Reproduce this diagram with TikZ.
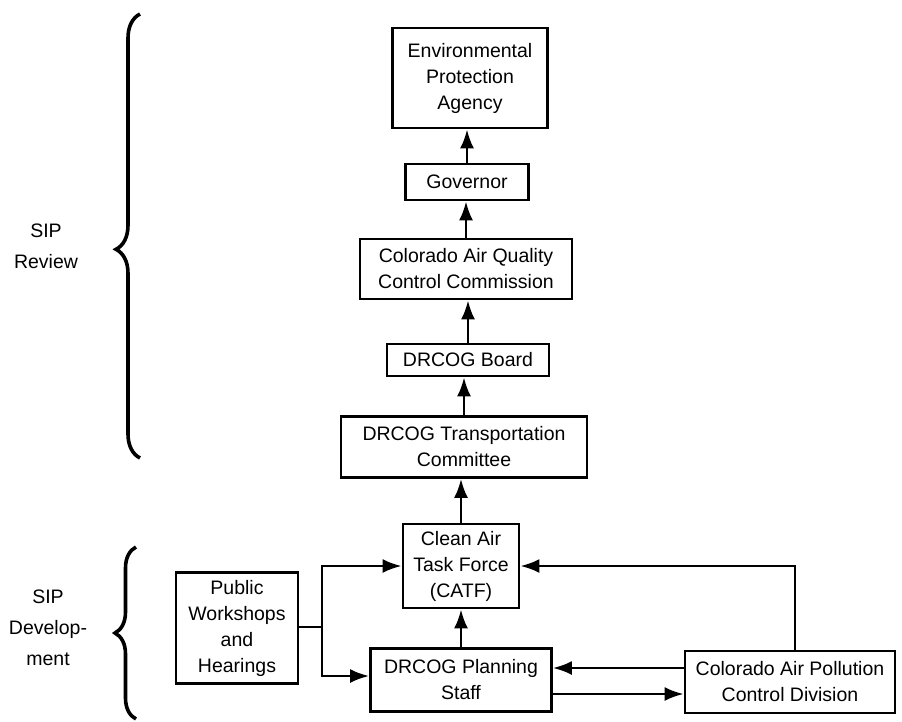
\documentclass[tikz,border=0pt]{standalone}
\usepackage{fontspec}
\setmainfont{Liberation Sans}
\usetikzlibrary{arrows.meta,decorations.pathreplacing}

\tikzset{
  box/.style={draw,line width=2.8pt,align=center,inner sep=0pt,
    font=\fontsize{19.5}{26}\selectfont},
  arr/.style={-{Latex[length=19pt,width=14pt]},line width=2.6pt},
  link/.style={line width=2.6pt},
  sipbrace/.style={decorate,line width=3.6pt,
    decoration={brace,amplitude=#1}},
  siplabel/.style={align=center,font=\fontsize{19.5}{31}\selectfont}
}

\begin{document}
\begin{tikzpicture}[x=1pt,y=-1pt]
    \useasboundingbox (0,0) rectangle (902,721);
    % review chain
    \node[box,minimum width=155pt,minimum height=100pt] (epa) at (470,78) {Environmental\\Protection\\Agency};
    \node[box,minimum width=123pt,minimum height=36pt] (gov) at (467,182) {Governor};
    \node[box,minimum width=212pt,minimum height=60pt] (aqcc) at (466,269) {Colorado Air Quality\\Control Commission};
    \node[box,minimum width=162pt,minimum height=32pt] (board) at (468,360) {DRCOG Board};
    \node[box,minimum width=246pt,minimum height=61pt] (trans) at (464,447) {DRCOG Transportation\\Committee};
    % development
    \node[box,minimum width=116pt,minimum height=84pt] (catf) at (461,566) {Clean Air\\Task Force\\(CATF)};
    \node[box,minimum width=122pt,minimum height=111pt] (public) at (237,628) {Public\\Workshops\\and\\Hearings};
    \node[box,minimum width=181pt,minimum height=63pt] (plan) at (461,680) {DRCOG Planning\\Staff};
    \node[box,minimum width=210pt,minimum height=62pt] (apcd) at (790,682) {Colorado Air Pollution\\Control Division};

    \draw[arr] (gov.north) -- (gov.north |- epa.south);
    \draw[arr] (aqcc.north) -- (aqcc.north |- gov.south);
    \draw[arr] (board.north) -- (board.north |- aqcc.south);
    \draw[arr] (trans.north) -- (trans.north |- board.south);
    \draw[arr] (catf.north) -- (catf.north |- trans.south);
    \draw[arr] (plan.north) -- (plan.north |- catf.south);

    \coordinate (split) at (322,627);
    \draw[link] (public.east |- split) -- (split);
    \draw[arr] (split) |- (catf.west);
    \draw[arr] (split) |- ([yshift=4pt]plan.west);

    \draw[arr] ([xshift=5pt]apcd.north) |- (catf.east);
    \draw[arr] ([yshift=14pt]apcd.west) -- ([yshift=14pt]apcd.west -| plan.east);
    \draw[arr] ([yshift=-12pt]apcd.west -| plan.east) -- ([yshift=-12pt]apcd.west);

    % braces and labels
    \draw[sipbrace=24pt,decoration={aspect=0.47}] (140,458) -- (140,14);
    \node[siplabel] (review) at (46,246) {SIP\\Review};
    \draw[sipbrace=21pt] (136,719) -- (136,547);
    \node[siplabel] (develop) at (48,628) {SIP\\Develop-\\ment};
\end{tikzpicture}
\end{document}
